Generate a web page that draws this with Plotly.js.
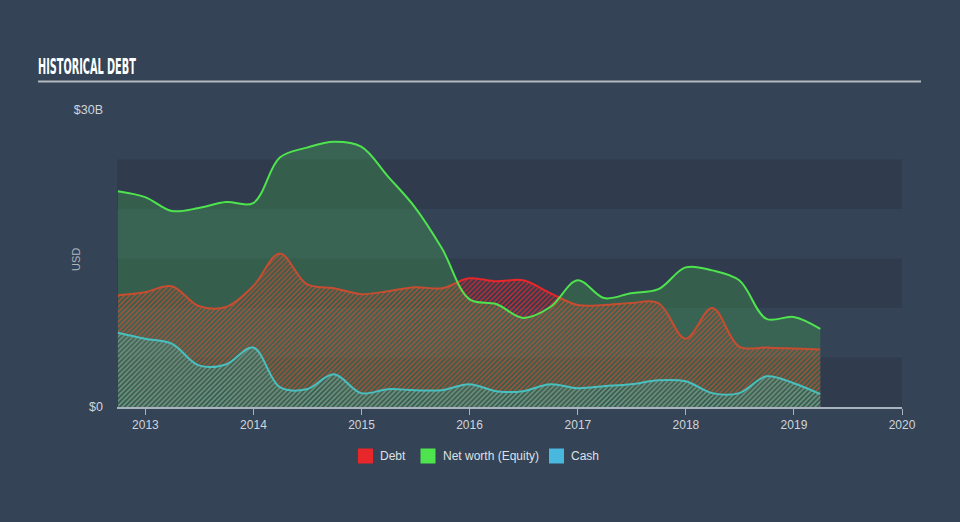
<!DOCTYPE html>
<html>
<head>
<meta charset="utf-8">
<script src="https://cdn.plot.ly/plotly-3.0.1.min.js"></script>
<style>
html,body{margin:0;padding:0;background:#344356;}
#chart{width:960px;height:522px;}
</style>
</head>
<body>
<div id="chart"></div>
<script>
var dates = ['2012-09-30','2012-12-31','2013-03-31','2013-06-30','2013-09-30','2013-12-31',
  '2014-03-31','2014-06-30','2014-09-30','2014-12-31','2015-03-31','2015-06-30','2015-09-30',
  '2015-12-31','2016-03-31','2016-06-30','2016-09-30','2016-12-31','2017-03-31','2017-06-30',
  '2017-09-30','2017-12-31','2018-03-31','2018-06-30','2018-09-30','2018-12-31','2019-03-31'];
var debt   = [11.3,11.6,12.2,10.2,10.1,12.2,15.5,12.4,12.0,11.4,11.7,12.1,12.0,
              13.0,12.7,12.8,11.5,10.3,10.3,10.5,10.5,6.9,10.0,6.1,6.0,5.9,5.8];
var equity = [21.8,21.2,19.8,20.1,20.7,20.6,25.2,26.2,26.8,26.3,23.3,20.2,16.0,
              10.9,10.4,9.0,10.1,12.8,11.0,11.5,11.9,14.1,13.8,12.8,8.9,9.1,7.9];
var cash   = [7.5,6.9,6.4,4.2,4.3,6.0,2.0,1.8,3.3,1.4,1.8,1.7,1.7,
              2.3,1.6,1.6,2.3,1.9,2.1,2.3,2.7,2.6,1.4,1.4,3.1,2.4,1.3];
var seriesNames = ['Debt','Net worth (Equity)','Cash'];
var yTickVals = [0, 30];
var yTickText = ['$0', '$30B'];

var cDebt = '#e8272b', cEq = '#4ee44e', cCash = '#48b8de';
var bg = '#344356', band = '#303c4e';

var traces = [
  {x: dates, y: debt, type:'scatter', mode:'lines', name: seriesNames[0], showlegend:false,
   line:{color:cDebt, width:2, shape:'spline', smoothing:1},
   fill:'tozeroy', fillcolor:'rgba(0,0,0,0)',
   fillpattern:{shape:'/', fgcolor:'rgba(232,39,43,0.85)', bgcolor:'rgba(0,0,0,0)', size:3.5, solidity:0.4},
   hoverinfo:'skip'},
  {x: dates, y: cash, type:'scatter', mode:'lines', name: seriesNames[2], showlegend:false,
   line:{color:cCash, width:2, shape:'spline', smoothing:1},
   fill:'tozeroy', fillcolor:'rgba(0,0,0,0)',
   fillpattern:{shape:'/', fgcolor:'rgba(72,160,190,0.75)', bgcolor:'rgba(0,0,0,0)', size:3.5, solidity:0.45},
   hoverinfo:'skip'},
  {x: dates, y: equity, type:'scatter', mode:'lines', name: seriesNames[1], showlegend:false,
   line:{color:cEq, width:2, shape:'spline', smoothing:1},
   fill:'tozeroy', fillcolor:'rgba(76,224,76,0.21)', hoverinfo:'skip'}
];

function px(X){ return (X-117)/785; }
function py(Y){ return (407-Y)/297; }

var shapes = [];
[[0,5],[10,15],[20,25]].forEach(function(b){
  shapes.push({type:'rect', xref:'paper', yref:'y', x0:0, x1:1, y0:b[0], y1:b[1],
    fillcolor:band, line:{width:0}, layer:'below'});
});
shapes.push({type:'line', xref:'paper', yref:'paper', x0:px(38), x1:px(921), y0:py(81.5), y1:py(81.5),
  line:{color:'#b4b9bf', width:2}});

var legendItems = [
  {name:seriesNames[0], color:cDebt, x0:358},
  {name:seriesNames[1], color:cEq, x0:420.5},
  {name:seriesNames[2], color:cCash, x0:549}
];
var annotations = [];
legendItems.forEach(function(it){
  shapes.push({type:'rect', xref:'paper', yref:'paper', x0:px(it.x0), x1:px(it.x0+15),
    y0:py(463.5), y1:py(448.5), fillcolor:it.color, line:{width:0}});
  annotations.push({xref:'paper', yref:'paper', x:px(it.x0+20), y:py(456), xanchor:'left', yanchor:'middle',
    text:it.name, showarrow:false,
    font:{family:'Liberation Sans, Arial, sans-serif', size:12, color:'#dde1e6'}});
});
annotations.push({xref:'paper', yref:'paper', x:px(76), y:py(260), xanchor:'center', yanchor:'middle',
  text:'USD', textangle:-90, showarrow:false,
  font:{family:'Liberation Sans, Arial, sans-serif', size:11, color:'#aeb6bf'}});

var layout = {
  width:960, height:522,
  paper_bgcolor:bg, plot_bgcolor:bg,
  margin:{l:117, r:58, t:110, b:115},
  title:{text:'HISTORICAL DEBT', x:38/960, xanchor:'left', xref:'container', y:1-67/522, yanchor:'middle',
    font:{family:'DejaVu Sans Condensed, DejaVu Sans, sans-serif', size:21, color:'#ffffff', weight:'bold'}},
  xaxis:{type:'date', range:['2012-09-27','2020-01-01'], dtick:'M12', tick0:'2013-01-01', tickformat:'%Y',
    showgrid:false, zeroline:false, showline:true, linecolor:'#a9b3bf', linewidth:1.5,
    ticks:'outside', ticklen:6, tickcolor:'#a9b3bf', tickwidth:1,
    tickfont:{family:'Liberation Sans, Arial, sans-serif', size:12, color:'#d0d5db'}, fixedrange:true},
  yaxis:{range:[0,30], tickvals:yTickVals, ticktext:yTickText, showgrid:false, zeroline:false,
    showline:false, ticks:'', ticklabelstandoff:13,
    tickfont:{family:'Liberation Sans, Arial, sans-serif', size:12.5, color:'#d0d5db'},
    fixedrange:true},
  shapes:shapes,
  annotations:annotations,
  showlegend:false
};

Plotly.newPlot('chart', traces, layout, {displayModeBar:false, staticPlot:true}).then(function(gd){
  var t = gd.querySelector('.gtitle');
  if (t) {
    var bb = t.getBBox();
    var s = 98 / bb.width;
    var x0 = bb.x;
    t.setAttribute('transform', 'translate(' + (38 - x0*s) + ',0) scale(' + s + ',1)');
  }
});
</script>
</body>
</html>
